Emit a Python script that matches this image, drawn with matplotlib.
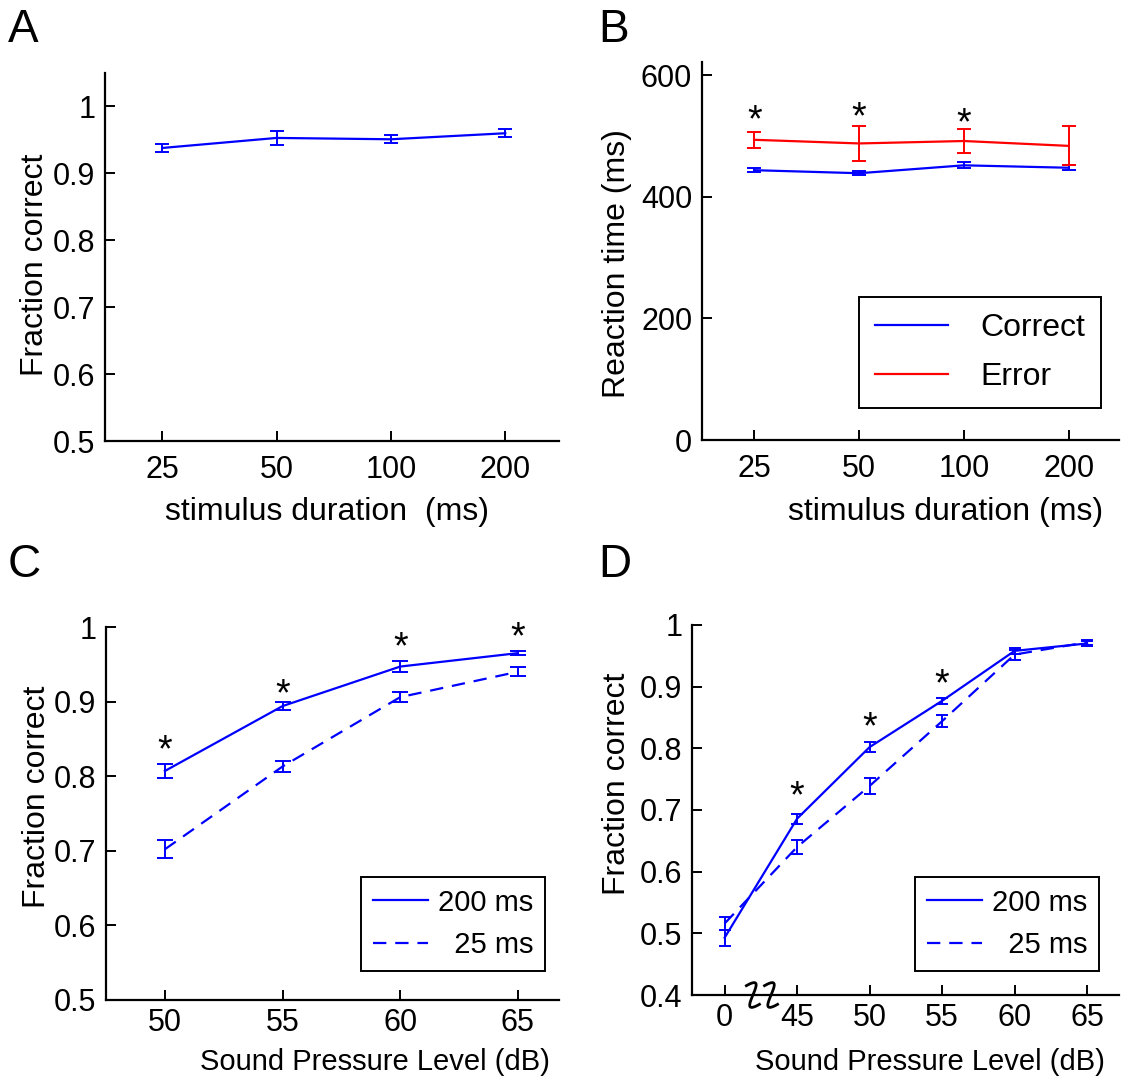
import matplotlib
matplotlib.use("Agg")
import matplotlib.pyplot as plt
import matplotlib.transforms as mtransforms
import numpy as np

plt.rcParams['font.family'] = ['Liberation Sans', 'DejaVu Sans']

# ---- data ----
dur_labels = ['25', '50', '100', '200']

# panel A
fc_dur = [0.938, 0.953, 0.951, 0.960]
fc_dur_err = [0.0065, 0.010, 0.006, 0.006]

# panel B
rt_correct = [444, 439, 452, 448]
rt_correct_err = [3, 3, 5, 4]
rt_error = [494, 488, 492, 484]
rt_error_err = [13, 29, 19, 32]
rt_star = [533, 537, 528]

# panel C
spl_c_labels = ['50', '55', '60', '65']
c_200 = [0.807, 0.894, 0.947, 0.965]
c_200_err = [0.009, 0.005, 0.007, 0.003]
c_25 = [0.702, 0.813, 0.906, 0.940]
c_25_err = [0.012, 0.008, 0.007, 0.006]
c_star = [0.84, 0.915, 0.978, 0.992]

# panel D
spl_d_labels = ['0', '45', '50', '55', '60', '65']
d_200 = [0.493, 0.686, 0.802, 0.877, 0.958, 0.970]
d_200_err = [0.013, 0.008, 0.008, 0.005, 0.005, 0.004]
d_25 = [0.516, 0.640, 0.739, 0.844, 0.952, 0.972]
d_25_err = [0.011, 0.011, 0.013, 0.010, 0.008, 0.004]
d_star = [0.728, 0.841, 0.910]

FS = 22      # tick labels
LFS = 23     # axis labels
LW = 1.6
BLUE = (0, 0, 1)
RED = (1, 0, 0)
DASH = (6, 4)

fig = plt.figure(figsize=(11.28, 10.82), dpi=100)


def style(ax, xpad=10):
    ax.spines['top'].set_visible(False)
    ax.spines['right'].set_visible(False)
    ax.spines['left'].set_linewidth(1.6)
    ax.spines['bottom'].set_linewidth(1.6)
    ax.tick_params(direction='in', length=7, width=1.4, labelsize=FS)
    ax.tick_params(axis='x', pad=xpad)
    ax.tick_params(axis='y', pad=7)


def labels(ax, xl, yl, xfs, xpos, ypos):
    ax.set_xlabel(xl, fontsize=xfs, va='center')
    ax.set_ylabel(yl, fontsize=LFS, va='center')
    ax.xaxis.set_label_coords(*xpos)
    ax.yaxis.set_label_coords(*ypos)


def stars(ax, x, y):
    tr = mtransforms.offset_copy(ax.transData, fig=fig, y=-5, units='dots')
    for xi, yi in zip(x, y):
        ax.text(xi, yi, '*', ha='center', va='center', fontsize=27, transform=tr)


def legend(ax, handles, labs, x0, y0, fs, **kw):
    leg = ax.legend(handles, labs, loc='upper left',
                    bbox_to_anchor=(x0 / 1128, 1 - y0 / 1082),
                    bbox_transform=fig.transFigure, fontsize=fs, frameon=True,
                    fancybox=False, edgecolor='black', borderaxespad=0, **kw)
    leg.get_frame().set_linewidth(1.4)
    leg.get_frame().set_alpha(None)
    return leg


# ---- A ----
axA = fig.add_axes([0.0931, 0.5924, 0.4025, 0.3401])
xa = np.arange(1, 5)
axA.errorbar(xa, fc_dur, yerr=fc_dur_err, color=BLUE, lw=LW, capsize=5,
             capthick=1.4, elinewidth=1.4)
axA.set_xlim(0.5, 4.47)
axA.set_ylim(0.5, 1.05)
axA.set_xticks(xa)
axA.set_xticklabels(dur_labels)
axA.set_yticks([0.5, 0.6, 0.7, 0.8, 0.9, 1.0])
axA.set_yticklabels(['0.5', '0.6', '0.7', '0.8', '0.9', '1'])
style(axA)
labels(axA, 'stimulus duration  (ms)', 'Fraction correct', LFS,
       (0.489, -0.193), (-0.154, 0.478))

# ---- B ----
axB = fig.add_axes([0.6223, 0.5933, 0.3697, 0.3494])
axB.errorbar(xa, rt_correct, yerr=rt_correct_err, color=BLUE, lw=LW, capsize=5,
             capthick=1.4, elinewidth=1.4)
axB.errorbar(xa, rt_error, yerr=rt_error_err, color=RED, lw=LW, capsize=5,
             capthick=1.4, elinewidth=1.4)
stars(axB, xa[:3], rt_star)
axB.set_xlim(0.5, 4.48)
axB.set_ylim(0, 622)
axB.set_xticks(xa)
axB.set_xticklabels(dur_labels)
axB.set_yticks([0, 200, 400, 600])
style(axB)
labels(axB, 'stimulus duration (ms)', 'Reaction time (ms)', LFS,
       (0.583, -0.19), (-0.204, 0.466))
hB = [plt.Line2D([], [], color=BLUE, lw=LW), plt.Line2D([], [], color=RED, lw=LW)]
legend(axB, hB, ['Correct', 'Error'], 859, 297, 23, handlelength=2.3,
       handletextpad=1.0, borderpad=0.5, labelspacing=0.6)

# ---- C ----
axC = fig.add_axes([0.094, 0.0758, 0.4016, 0.3447])
xc = np.arange(1, 5)
axC.errorbar(xc, c_200, yerr=c_200_err, color=BLUE, lw=LW, capsize=6,
             capthick=1.4, elinewidth=1.4)
axC.errorbar(xc, c_25, yerr=c_25_err, color=BLUE, lw=LW, ls='--', dashes=DASH,
             capsize=6, capthick=1.4, elinewidth=1.4)
stars(axC, xc, c_star)
axC.set_xlim(0.5, 4.35)
axC.set_ylim(0.5, 1.0)
axC.set_xticks(xc)
axC.set_xticklabels(spl_c_labels)
axC.set_yticks([0.5, 0.6, 0.7, 0.8, 0.9, 1.0])
axC.set_yticklabels(['0.5', '0.6', '0.7', '0.8', '0.9', '1'])
style(axC, xpad=6)
labels(axC, 'Sound Pressure Level (dB)', 'Fraction correct', 21,
       (0.594, -0.166), (-0.152, 0.544))
hC = [plt.Line2D([], [], color=BLUE, lw=LW),
      plt.Line2D([], [], color=BLUE, lw=LW, ls='--', dashes=DASH)]
legend(axC, hC, ['200 ms', '  25 ms'], 361, 877, 21, handlelength=1.9,
       handletextpad=0.35, borderpad=0.4, labelspacing=0.5)

# ---- D ----
axD = fig.add_axes([0.6135, 0.0804, 0.3785, 0.342])
xd = np.arange(1, 7)
axD.errorbar(xd, d_200, yerr=d_200_err, color=BLUE, lw=LW, capsize=4,
             capthick=1.4, elinewidth=1.4)
axD.errorbar(xd, d_25, yerr=d_25_err, color=BLUE, lw=LW, ls='--', dashes=DASH,
             capsize=4, capthick=1.4, elinewidth=1.4)
stars(axD, xd[1:4], d_star)
axD.set_xlim(0.55, 6.44)
axD.set_ylim(0.4, 1.0)
axD.set_xticks(xd)
axD.set_xticklabels(spl_d_labels)
axD.set_yticks([0.4, 0.5, 0.6, 0.7, 0.8, 0.9, 1.0])
axD.set_yticklabels(['0.4', '0.5', '0.6', '0.7', '0.8', '0.9', '1'])
style(axD, xpad=6)
labels(axD, 'Sound Pressure Level (dB)', 'Fraction correct', 21,
       (0.557, -0.181), (-0.176, 0.57))
hD = [plt.Line2D([], [], color=BLUE, lw=LW),
      plt.Line2D([], [], color=BLUE, lw=LW, ls='--', dashes=DASH)]
legend(axD, hD, ['200 ms', '  25 ms'], 915, 877, 21, handlelength=1.9,
       handletextpad=0.35, borderpad=0.4, labelspacing=0.5)

# axis break squiggles between 0 and 45
trans = mtransforms.blended_transform_factory(axD.transData, axD.transAxes)
t = np.linspace(0, 1, 60)
px = np.array([-0.6, 1.9, -1.9, 0.6]) * 0.15
py = np.array([0.6, 1.6, -1.6, -0.6]) * 0.042
bern = np.array([(1 - t) ** 3, 3 * t * (1 - t) ** 2, 3 * t ** 2 * (1 - t), t ** 3])
for x0 in [1.39, 1.64]:
    axD.plot(x0 + px @ bern, py @ bern, color='black', lw=2.0,
             transform=trans, clip_on=False)

# panel letters
for lab, (fx, fy) in zip('ABCD', [(8, 8), (598, 8), (8, 543), (598, 543)]):
    fig.text(fx / 1128, 1 - fy / 1082, lab, fontsize=33, va='top', ha='left')

fig.savefig('out.png', dpi=100)
